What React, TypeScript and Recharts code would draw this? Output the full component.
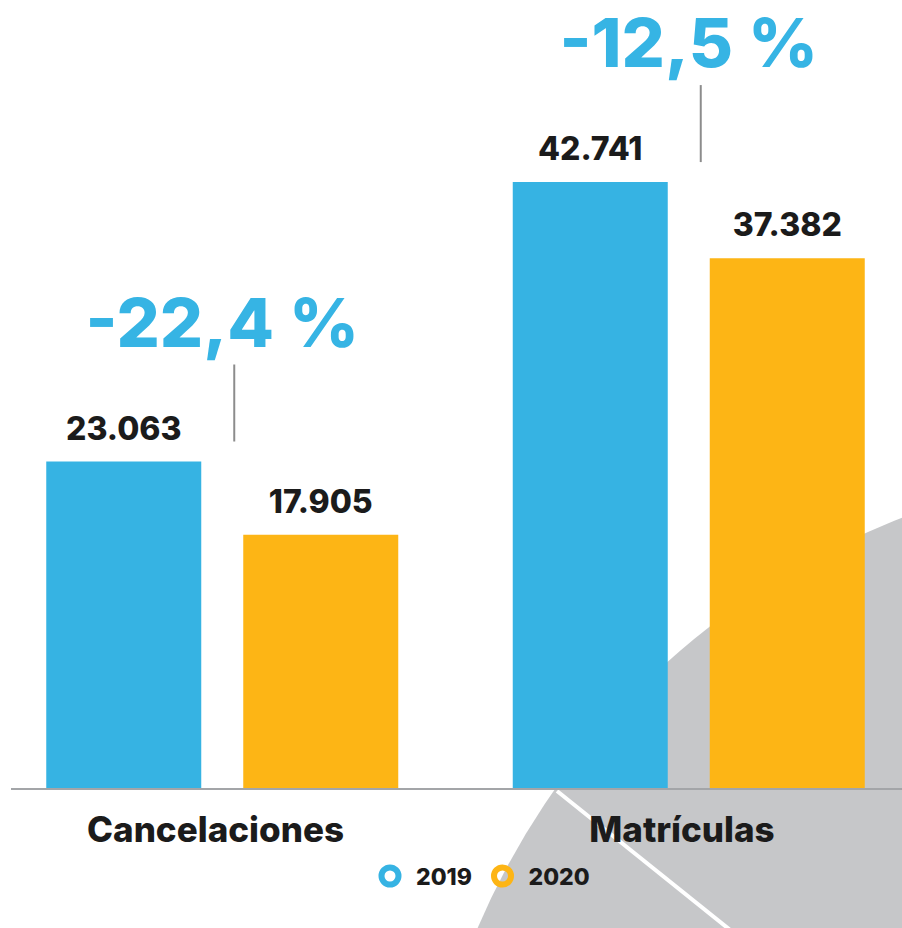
import { Bar, BarChart, LabelList, Legend, XAxis, YAxis } from "recharts";

const categories = ["Cancelaciones", "Matrículas"];
const values2019 = [23063, 42741];
const values2020 = [17905, 37382];
const changes = ["-22,4 %", "-12,5 %"];

const data = categories.map((name, i) => ({
  name,
  y2019: values2019[i],
  y2020: values2020[i],
  change: changes[i],
}));

const BLUE = "#36b3e3";
const ORANGE = "#fdb515";
const FONT = "Inter, 'DejaVu Sans', sans-serif";

const fmt = (v: number) => String(v).replace(/\B(?=(\d{3})+(?!\d))/g, ".");

function box(props: any) {
  const vb = props.viewBox || {};
  return {
    x: Number(vb.x ?? props.x),
    y: Number(vb.y ?? props.y),
    width: Number(vb.width ?? props.width),
  };
}

function ValueLabel(props: any) {
  const { x, y, width } = box(props);
  return (
    <text
      x={x + width / 2}
      y={y - 22}
      textAnchor="middle"
      fontFamily={FONT}
      fontWeight={800}
      fontSize={32}
      fill="#1b1b1b"
    >
      {fmt(Number(props.value))}
    </text>
  );
}

// percent change above each group, with the small connector line
function ChangeLabel(props: any) {
  const { x, y, width } = box(props);
  const lineX = x + width + 33;
  return (
    <g>
      <line x1={lineX} x2={lineX} y1={y - 97} y2={y - 20} stroke="#8c8c8c" strokeWidth={2} />
      <text
        x={x + width + 21}
        y={y - 115}
        textAnchor="middle"
        fontFamily={FONT}
        fontWeight={800}
        fontSize={68}
        fill="#36b4e4"
      >
        {props.value}
      </text>
    </g>
  );
}

function CategoryTick({ x, y, payload }: any) {
  return (
    <text
      x={x - 7}
      y={y}
      dy={53}
      textAnchor="middle"
      fontFamily={FONT}
      fontWeight={800}
      fontSize={35}
      fill="#1b1b1b"
    >
      {payload.value}
    </text>
  );
}

function LegendContent({ payload }: any) {
  return (
    <svg width={230} height={30}>
      {(payload || []).map((entry: any, i: number) => {
        const cx = 14 + i * 112.5;
        return (
          <g key={entry.value}>
            <circle cx={cx} cy={14} r={8.5} fill="none" stroke={entry.color} strokeWidth={6} />
            <text x={cx + 26} y={23} fontFamily={FONT} fontWeight={800} fontSize={23} fill="#1b1b1b">
              {entry.value}
            </text>
          </g>
        );
      })}
    </svg>
  );
}

export default function App() {
  return (
    <div style={{ position: "absolute", left: 0, top: 0, width: 902, height: 928, background: "#fff", overflow: "hidden" }}>
      <svg width={902} height={928} style={{ position: "absolute", left: 0, top: 0 }}>
        <circle cx={1175} cy={1225} r={758} fill="#c6c7c9" />
        <line x1={557} y1={791} x2={770} y2={962} stroke="#fff" strokeWidth={4} />
      </svg>
      <div style={{ position: "absolute", left: 0, top: 0 }}>
        <BarChart
          width={902}
          height={928}
          data={data}
          margin={{ top: 79, right: 0, bottom: 79, left: 11 }}
          barSize={155}
          barGap={42}
        >
          <XAxis
            dataKey="name"
            height={60}
            padding={{ left: -21.75, right: -20.25 }}
            axisLine={{ stroke: "#a3a5a8", strokeWidth: 2 }}
            tickLine={false}
            tickSize={0}
            tickMargin={0}
            tick={<CategoryTick />}
            interval={0}
          />
          <YAxis hide domain={[0, 50000]} />
          <Legend
            layout="horizontal"
            verticalAlign="middle"
            align="center"
            content={<LegendContent />}
            wrapperStyle={{ top: 862, left: 376, width: 230, height: 30 }}
          />
          <Bar dataKey="y2019" name="2019" fill={BLUE} isAnimationActive={false}>
            <LabelList dataKey="y2019" content={<ValueLabel />} />
            <LabelList dataKey="change" content={<ChangeLabel />} />
          </Bar>
          <Bar dataKey="y2020" name="2020" fill={ORANGE} isAnimationActive={false}>
            <LabelList dataKey="y2020" content={<ValueLabel />} />
          </Bar>
        </BarChart>
      </div>
    </div>
  );
}
